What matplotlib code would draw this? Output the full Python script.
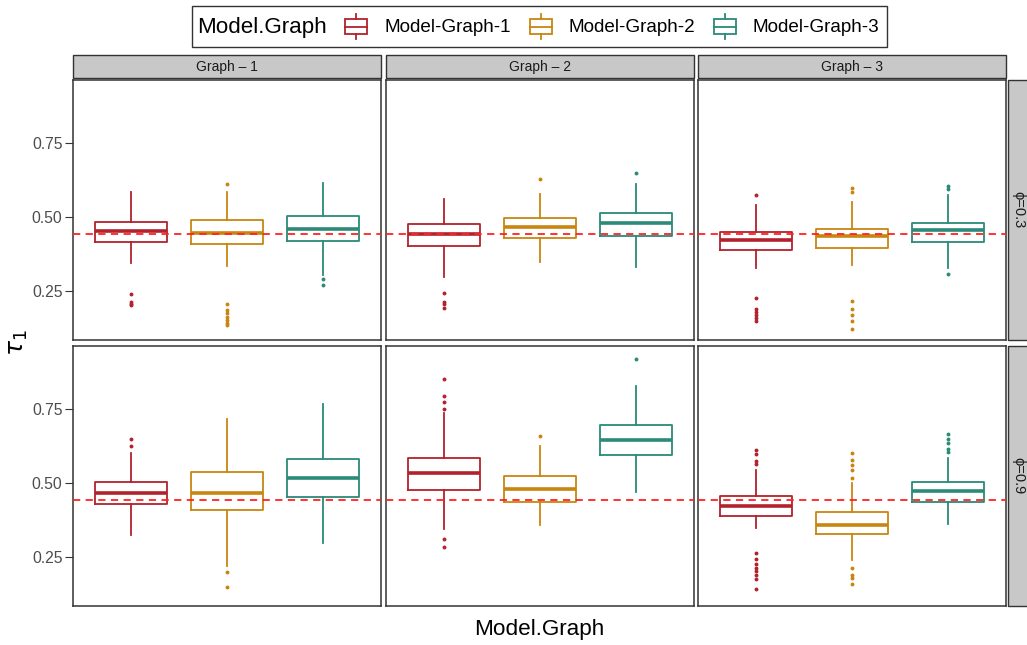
import matplotlib
matplotlib.use('Agg')
import matplotlib.pyplot as plt
from matplotlib.patches import Rectangle

plt.rcParams['font.family'] = ['Liberation Sans', 'DejaVu Sans']

# ---------------- data ----------------
models = ['Model-Graph-1', 'Model-Graph-2', 'Model-Graph-3']
graphs = ['Graph – 1', 'Graph – 2', 'Graph – 3']
phis = ['ϕ=0.3', 'ϕ=0.9']
colors = ['#B2222C', '#C88610', '#2B8A78']
true_value = 0.444
y_ticks = [0.25, 0.50, 0.75]
y_tick_labels = ['0.25', '0.50', '0.75']
y_limits = (0.083, 0.965)

# indexed [phi][graph][model]
whislo = [[[0.343, 0.335, 0.303], [0.297, 0.346, 0.329], [0.326, 0.336, 0.328]],
          [[0.323, 0.219, 0.298], [0.343, 0.358, 0.469], [0.347, 0.238, 0.362]]]
q1 = [[[0.416, 0.407, 0.418], [0.403, 0.429, 0.437], [0.388, 0.394, 0.416]],
      [[0.428, 0.408, 0.453], [0.478, 0.435, 0.594], [0.388, 0.328, 0.437]]]
med = [[[0.453, 0.446, 0.460], [0.441, 0.466, 0.479], [0.422, 0.437, 0.455]],
       [[0.467, 0.468, 0.517], [0.534, 0.480, 0.647], [0.421, 0.358, 0.472]]]
q3 = [[[0.482, 0.489, 0.505], [0.478, 0.496, 0.514], [0.451, 0.460, 0.481]],
      [[0.504, 0.539, 0.583], [0.586, 0.524, 0.696], [0.455, 0.402, 0.505]]]
whishi = [[[0.586, 0.584, 0.615], [0.561, 0.579, 0.611], [0.541, 0.552, 0.575]],
          [[0.601, 0.718, 0.767], [0.739, 0.626, 0.829], [0.546, 0.501, 0.586]]]
fliers = [
    [[[0.239, 0.213, 0.205, 0.202],
      [0.613, 0.205, 0.185, 0.173, 0.162, 0.151, 0.140, 0.134],
      [0.290, 0.271]],
     [[0.241, 0.213, 0.205, 0.191],
      [0.630],
      [0.648]],
     [[0.576, 0.224, 0.187, 0.179, 0.168, 0.156, 0.148],
      [0.597, 0.586, 0.214, 0.189, 0.168, 0.148, 0.119],
      [0.605, 0.595, 0.308]]],
    [[[0.649, 0.626],
      [0.200, 0.149],
      []],
     [[0.854, 0.795, 0.776, 0.752, 0.309, 0.283],
      [0.660],
      [0.922]],
     [[0.613, 0.597, 0.575, 0.566, 0.262, 0.241, 0.225, 0.213, 0.202, 0.187, 0.174, 0.142],
      [0.601, 0.578, 0.563, 0.544, 0.518, 0.212, 0.187, 0.179, 0.157],
      [0.665, 0.650, 0.637, 0.614, 0.607]]],
]

# ---------------- layout (pixels) ----------------
W, H = 1027, 645
fig = plt.figure(figsize=(W / 100, H / 100), dpi=100)
col_left = [73, 386, 698]
row_top = [80, 346]
pw, ph = 308, 260
strip_h = 23
dark = '#333333'

overlay = fig.add_axes([0, 0, 1, 1], zorder=0)
overlay.set_xlim(0, W)
overlay.set_ylim(H, 0)
overlay.axis('off')

for r in range(2):
    for c in range(3):
        ax = fig.add_axes([col_left[c] / W, 1 - (row_top[r] + ph) / H, pw / W, ph / H], zorder=2)
        for m in range(3):
            st = [dict(med=med[r][c][m], q1=q1[r][c][m], q3=q3[r][c][m],
                       whislo=whislo[r][c][m], whishi=whishi[r][c][m],
                       fliers=fliers[r][c][m])]
            col = colors[m]
            ax.bxp(st, positions=[m + 1], widths=0.75, showcaps=False,
                   boxprops=dict(color=col, linewidth=1.3),
                   whiskerprops=dict(color=col, linewidth=1.3),
                   medianprops=dict(color=col, linewidth=2.6, solid_capstyle='butt'),
                   flierprops=dict(marker='o', markersize=2.8, markerfacecolor=col,
                                   markeredgecolor='none', linestyle='none'),
                   manage_ticks=False)
        ax.axhline(true_value, color='#FF2222', linestyle=(0, (4, 3)), linewidth=1.3, zorder=5)
        ax.set_xlim(0.4, 3.6)
        ax.set_ylim(*y_limits)
        ax.set_xticks([])
        ax.set_yticks(y_ticks)
        if c == 0:
            ax.set_yticklabels(y_tick_labels, fontsize=11.3, color='#4D4D4D')
            ax.tick_params(axis='y', length=6, width=0.8, color=dark, pad=1.5)
        else:
            ax.set_yticklabels([])
            ax.tick_params(axis='y', length=0)
        for s in ax.spines.values():
            s.set_color(dark)
            s.set_linewidth(1.1)
        ax.set_facecolor('white')

# top strips
for c in range(3):
    overlay.add_patch(Rectangle((col_left[c], row_top[0] - strip_h - 2), pw, strip_h,
                                facecolor='#C8C8C8', edgecolor=dark, linewidth=1.0))
    overlay.text(col_left[c] + pw / 2, row_top[0] - 2 - strip_h / 2, graphs[c],
                 ha='center', va='center', fontsize=10, color='#1A1A1A')
# right strips
sx = col_left[2] + pw + 2
for r in range(2):
    overlay.add_patch(Rectangle((sx, row_top[r]), 30, ph,
                                facecolor='#C8C8C8', edgecolor=dark, linewidth=1.0))
    overlay.text(sx + 10, row_top[r] + ph / 2, phis[r], rotation=-90,
                 ha='center', va='center', fontsize=10.5, color='#1A1A1A')

# axis labels
overlay.text((col_left[0] + col_left[2] + pw) / 2, 630, 'Model.Graph',
             ha='center', va='center', fontsize=16.2, color='black')
overlay.text(18, 343, r'$\tau_1$', rotation=90, ha='center', va='center',
             fontsize=18, color='black')

# legend
overlay.add_patch(Rectangle((192, 6), 695, 41, facecolor='white', edgecolor=dark, linewidth=1.0))
overlay.text(197, 27, 'Model.Graph', ha='left', va='center', fontsize=16.1, color='black')
glyph_x = [356, 541, 725]
text_x = [385, 569, 753]
for m in range(3):
    gx = glyph_x[m]
    col = colors[m]
    overlay.add_patch(Rectangle((gx - 11, 19), 22, 15, facecolor='white', edgecolor=col, linewidth=1.3))
    overlay.plot([gx - 11, gx + 11], [26.5, 26.5], color=col, linewidth=1.3)
    overlay.plot([gx, gx], [14, 19], color=col, linewidth=1.3)
    overlay.plot([gx, gx], [34, 39], color=col, linewidth=1.3)
    overlay.text(text_x[m], 27, models[m], ha='left', va='center', fontsize=13.6, color='black')

fig.savefig('out.png', dpi=100)
